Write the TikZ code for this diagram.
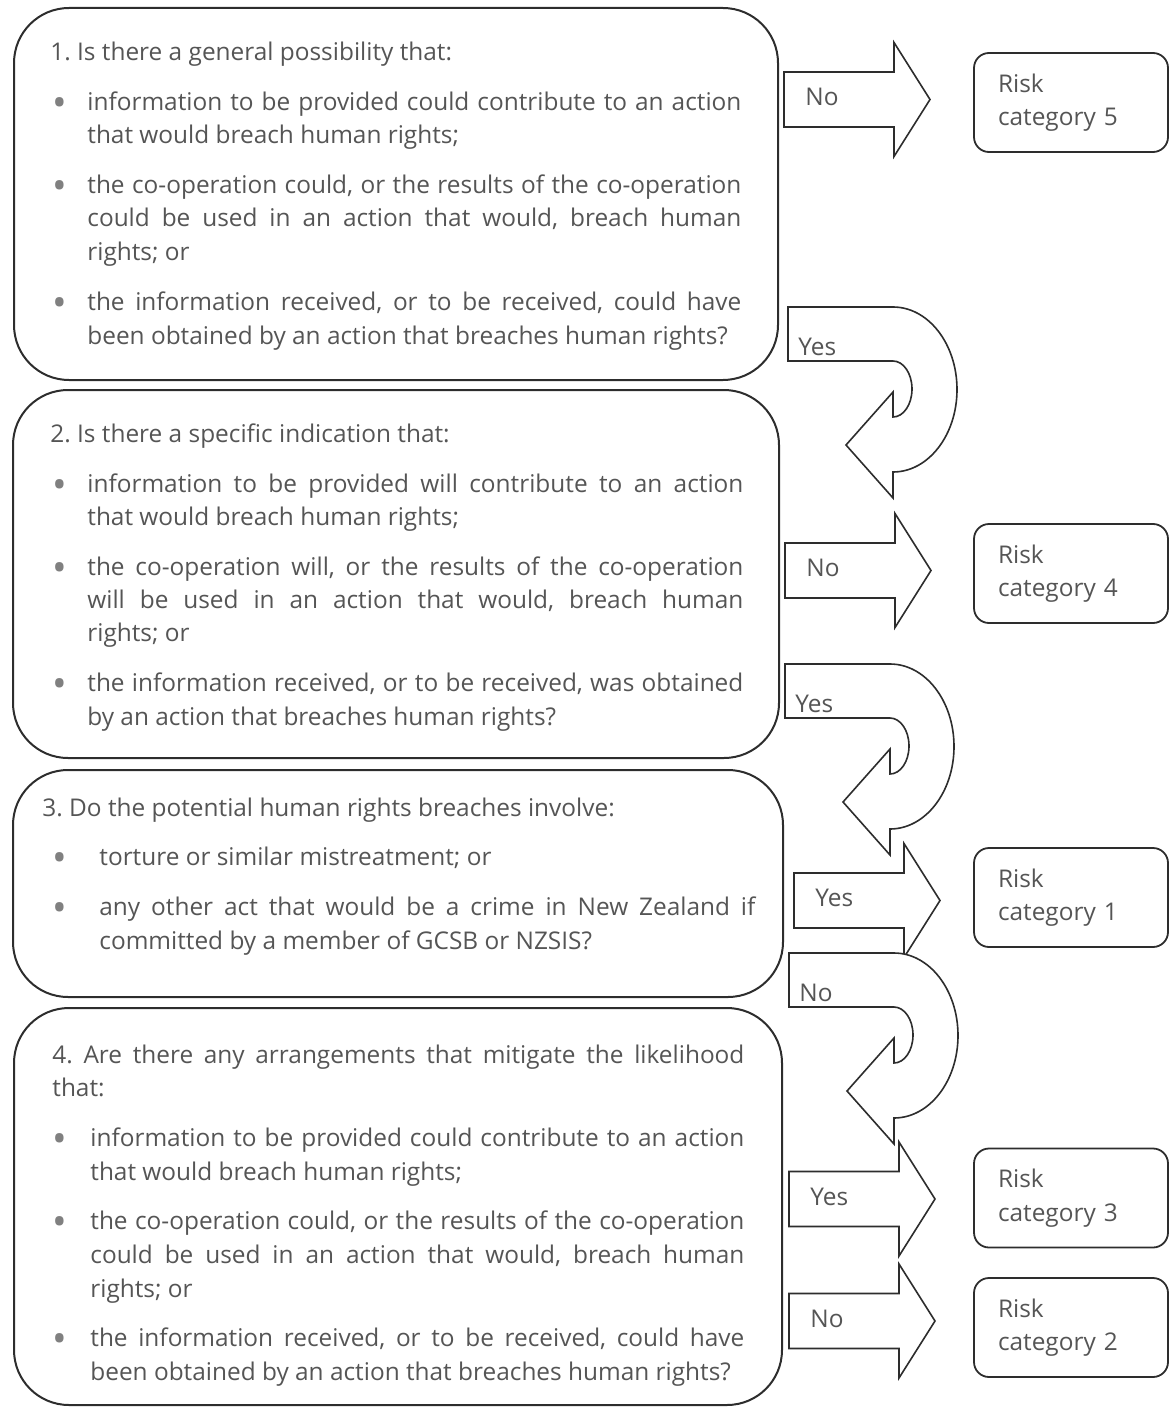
\documentclass[tikz,border=0pt]{standalone}
\usepackage{fontspec}
\setmainfont{Open Sans}
\frenchspacing
\definecolor{txtgray}{RGB}{85,85,85}
\definecolor{linegray}{RGB}{45,45,45}
\newcommand{\qfont}{\fontsize{12.2}{16.75}\selectfont}
\newcommand{\jline}[2]{\makebox[#1][s]{#2}}
\newcommand{\bdot}{\raisebox{-3pt}{\fontsize{19.5}{19.5}\selectfont •}}
% straight block arrow: name, shaft left x, shaft centre y, label
\newcommand{\blockarrow}[4]{%
  \begin{scope}[shift={(#2,#3)}]
    \draw[arrowline] (0,-27.5) -- (110,-27.5) -- (110,-57) -- (146,0) -- (110,57) -- (110,27.5) -- (0,27.5) -- cycle;
    \node[lbl] (#1) at (21,6) {#4};
  \end{scope}}
% u-turn block arrow: name, shaft left x, shaft top y, label
\newcommand{\uturnarrow}[4]{%
  \begin{scope}[shift={(#2,#3)}]
    \draw[arrowline] (0,0) -- (105,0) arc[start angle=-90, end angle=90, x radius=64, y radius=82.5] -- (105,191) -- (58,138) -- (105,85) -- (105,110) arc[start angle=90, end angle=-90, x radius=19, y radius=28] -- (0,54) -- cycle;
    \node[lbl] (#1) at (10,48) {#4};
  \end{scope}}
\begin{document}
\begin{tikzpicture}[x=0.5pt,y=0.5pt,yscale=-1,xscale=1,
  qbox/.style={draw=linegray, line width=1pt, rounded corners=27.5pt, inner sep=0pt},
  riskbox/.style={draw=linegray, line width=0.9pt, rounded corners=7.5pt, minimum width=97pt, minimum height=49.5pt, text width=73pt, inner xsep=12pt, inner ysep=0pt, align=left, font=\qfont, text=txtgray},
  arrowline/.style={draw=linegray, line width=0.8pt, fill=white, line join=miter},
  lbl/.style={anchor=base west, inner sep=0pt, font=\qfont, text=txtgray},
  ln/.style={anchor=base west, inner sep=0pt, font=\qfont, text=txtgray},
  bul/.style={anchor=base, inner sep=0pt, text=txtgray!75}]
\useasboundingbox (0,0) rectangle (1170,1407);

%Shape: Question box 1
\node[qbox, minimum width=382pt, minimum height=186pt] (q1) at (396,194) {};
% Text Node
\node[ln] (q1h) at (50,61) {1. Is there a general possibility that:};
\node[bul] (q1d1) at (60,111) {\bdot};
\node[ln] (q1a1) at (87,111) {\jline{327pt}{information to be provided could contribute to an action}};
\node[ln] (q1a2) at (87,144) {that would breach human rights;};
\node[bul] (q1d2) at (60,194) {\bdot};
\node[ln] (q1b1) at (87,194) {\jline{327pt}{the co-operation could, or the results of the co-operation}};
\node[ln] (q1b2) at (87,227) {\jline{327pt}{could be used in an action that would, breach human}};
\node[ln] (q1b3) at (87,261) {rights; or};
\node[bul] (q1d3) at (60,310) {\bdot};
\node[ln] (q1c1) at (87,310) {\jline{327pt}{the information received, or to be received, could have}};
\node[ln] (q1c2) at (87,344) {been obtained by an action that breaches human rights?};

%Shape: Question box 2
\node[qbox, minimum width=383pt, minimum height=184pt] (q2) at (396,574) {};
% Text Node
\node[ln] (q2h) at (50,442) {2. Is there a specific indication that:};
\node[bul] (q2d1) at (60,492) {\bdot};
\node[ln] (q2a1) at (87,492) {\jline{328pt}{information to be provided will contribute to an action}};
\node[ln] (q2a2) at (87,525) {that would breach human rights;};
\node[bul] (q2d2) at (60,575) {\bdot};
\node[ln] (q2b1) at (87,575) {\jline{328pt}{the co-operation will, or the results of the co-operation}};
\node[ln] (q2b2) at (87,608) {\jline{328pt}{will be used in an action that would, breach human}};
\node[ln] (q2b3) at (87,641) {rights; or};
\node[bul] (q2d3) at (60,691) {\bdot};
\node[ln] (q2c1) at (87,691) {\jline{328pt}{the information received, or to be received, was obtained}};
\node[ln] (q2c2) at (87,725) {by an action that breaches human rights?};

%Shape: Question box 3
\node[qbox, minimum width=385pt, minimum height=113.5pt] (q3) at (398,883.5) {};
% Text Node
\node[ln] (q3h) at (42,816) {3. Do the potential human rights breaches involve:};
\node[bul] (q3d1) at (60,865) {\bdot};
\node[ln] (q3a1) at (99,865) {torture or similar mistreatment; or};
\node[bul] (q3d2) at (60,915) {\bdot};
\node[ln] (q3b1) at (99,915) {\jline{328pt}{any other act that would be a crime in New Zealand if}};
\node[ln] (q3b2) at (99,949) {committed by a member of GCSB or NZSIS?};

%Shape: Question box 4
\node[qbox, minimum width=384pt, minimum height=198.5pt] (q4) at (398,1206.5) {};
% Text Node
\node[ln] (q4h1) at (52,1063) {\jline{346pt}{4. Are there any arrangements that mitigate the likelihood}};
\node[ln] (q4h2) at (52,1096) {that:};
\node[bul] (q4d1) at (60,1146) {\bdot};
\node[ln] (q4a1) at (90,1146) {\jline{327pt}{information to be provided could contribute to an action}};
\node[ln] (q4a2) at (90,1180) {that would breach human rights;};
\node[bul] (q4d2) at (60,1229) {\bdot};
\node[ln] (q4b1) at (90,1229) {\jline{327pt}{the co-operation could, or the results of the co-operation}};
\node[ln] (q4b2) at (90,1263) {\jline{327pt}{could be used in an action that would, breach human}};
\node[ln] (q4b3) at (90,1297) {rights; or};
\node[bul] (q4d3) at (60,1346) {\bdot};
\node[ln] (q4c1) at (90,1346) {\jline{327pt}{the information received, or to be received, could have}};
\node[ln] (q4c2) at (90,1380) {been obtained by an action that breaches human rights?};

%Shape: Block arrows
\blockarrow{no1}{784}{99.5}{No}
\uturnarrow{yes1}{788}{307}{Yes}
\blockarrow{no2}{785}{570.5}{No}
\uturnarrow{yes2}{785}{664}{Yes}
\blockarrow{yes3}{794}{900.5}{Yes}
\uturnarrow{no3}{789}{953}{No}
\blockarrow{yes4}{789}{1199}{Yes}
\blockarrow{no4}{789}{1321}{No}

%Shape: Risk boxes
\node[riskbox] (r5) at (1071,102.5) {Risk\\category 5};
\node[riskbox] (r4) at (1071,573.5) {Risk\\category 4};
\node[riskbox] (r1) at (1071,897.5) {Risk\\category 1};
\node[riskbox] (r3) at (1071,1198) {Risk\\category 3};
\node[riskbox] (r2) at (1071,1327.5) {Risk\\category 2};
\end{tikzpicture}
\end{document}
